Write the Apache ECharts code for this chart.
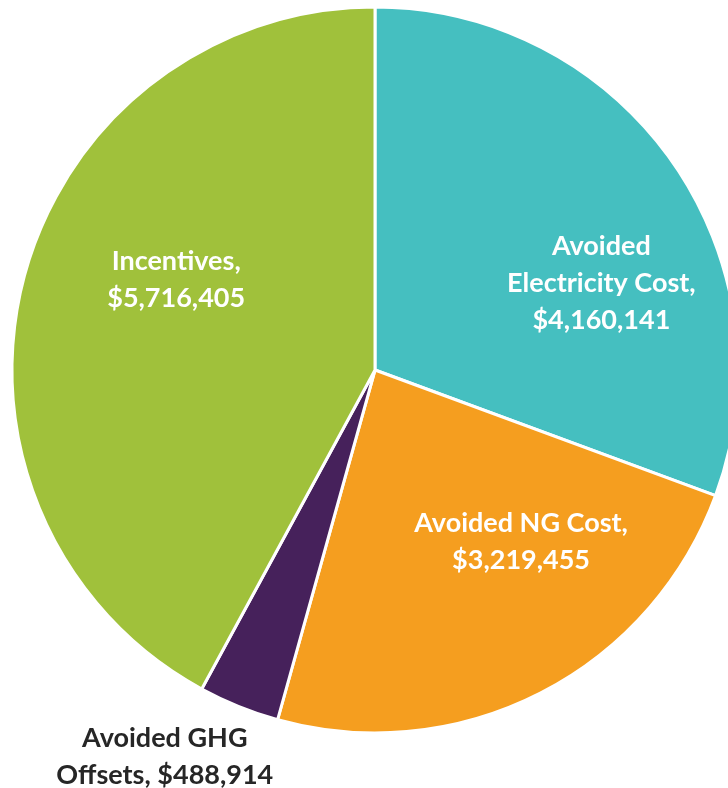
<!DOCTYPE html>
<html><head><meta charset="utf-8">
<script src="https://cdn.jsdelivr.net/npm/echarts@6/dist/echarts.min.js"></script>
<style>html,body{margin:0;padding:0;background:#fff}#c{width:728px;height:788px}</style>
</head><body><div id="c"></div>
<script>
const categories = ['Avoided\nElectricity Cost,', 'Avoided NG Cost,', 'Avoided GHG\nOffsets,', 'Incentives,'];
const values = [4160141, 3219455, 488914, 5716405];
const colors = ['#45BFC0', '#F59E1F', '#46215B', '#A0C13B'];
const labelShift = [[75, 19], [62, 8], [-141, 216], [-20, -45]];
const labelColors = ['#fff', '#fff', '#262626', '#fff'];

const fmt = v => '$' + v.toLocaleString('en-US');
const chart = echarts.init(document.getElementById('c'));
chart.setOption({
  animation: false,
  series: [{
    type: 'pie',
    center: [375, 370],
    radius: [0, 363],
    startAngle: 90,
    clockwise: true,
    data: categories.map((n, i) => ({
      name: n, value: values[i],
      itemStyle: { color: colors[i] },
      label: { color: labelColors[i] }
    })),
    itemStyle: { borderColor: '#fff', borderWidth: 3 },
    label: {
      show: true,
      position: 'inside',
      fontFamily: 'Lato',
      fontWeight: 'bold',
      fontSize: 27,
      lineHeight: 37,
      align: 'center',
      formatter: p => {
        if (p.dataIndex === 2) return 'Avoided GHG\nOffsets, ' + fmt(p.value);
        return p.name + '\n' + fmt(p.value);
      }
    },
    labelLayout: p => ({ dx: labelShift[p.dataIndex][0], dy: labelShift[p.dataIndex][1] }),
    labelLine: { show: false }
  }]
});
</script></body></html>
